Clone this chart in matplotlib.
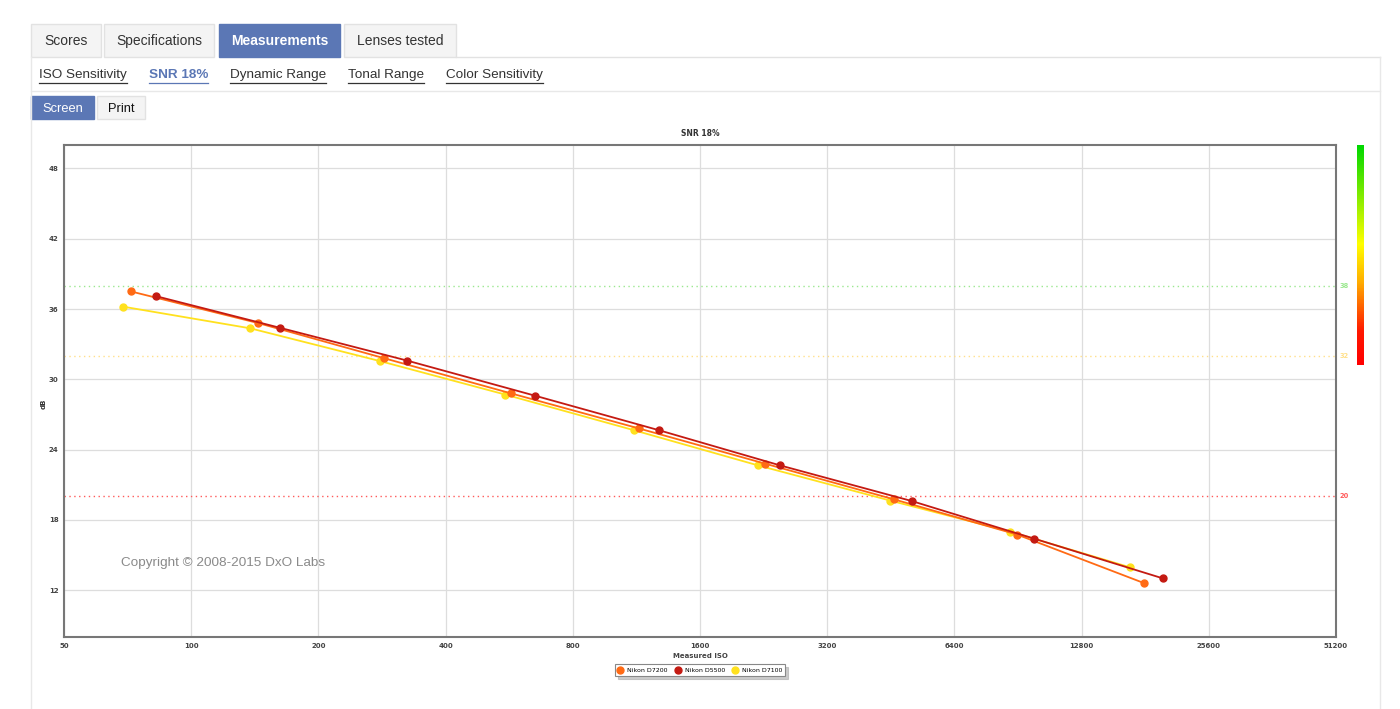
"""
SNR 18% chart (DxO style page) -- three Nikon bodies, SNR vs measured ISO.
"""
import numpy as np
import matplotlib
matplotlib.use("Agg")
import matplotlib.pyplot as plt
from matplotlib.patches import Rectangle
from matplotlib.colors import LinearSegmentedColormap

W, H = 1400, 709

# ---- data ----
iso_d7200 = [72, 144, 286, 571, 1148, 2280, 4605, 9000, 17990]
snr_d7200 = [37.5, 34.8, 31.8, 28.8, 25.8, 22.8, 19.75, 16.75, 12.6]
iso_d5500 = [82.5, 162, 324, 651, 1280, 2475, 5080, 9877, 19950]
snr_d5500 = [37.1, 34.4, 31.6, 28.6, 25.65, 22.65, 19.6, 16.4, 13.0]
iso_d7100 = [69, 138, 280, 553, 1117, 2195, 4507, 8665, 16660]
snr_d7100 = [36.2, 34.35, 31.55, 28.7, 25.65, 22.65, 19.65, 17.0, 13.95]
cameras = ["Nikon D7200", "Nikon D5500", "Nikon D7100"]
colors = ["#ff6a14", "#c41a12", "#ffe11e"]

x_ticks = [50, 100, 200, 400, 800, 1600, 3200, 6400, 12800, 25600, 51200]
y_ticks = [12, 18, 24, 30, 36, 42, 48]
ref_levels = [38, 32, 20]
ref_colors = ["#9be88f", "#ffe08a", "#ff5a5a"]

tabs = ["Scores", "Specifications", "Measurements", "Lenses tested"]
tab_x = [(31, 101), (104, 214), (219, 340), (344, 456)]
links = ["ISO Sensitivity", "SNR 18%", "Dynamic Range", "Tonal Range", "Color Sensitivity"]
link_x = [(39, 127), (149, 208), (230, 326), (348, 424), (446, 543)]

BLUE = "#5b77b5"

fig = plt.figure(figsize=(W / 100, H / 100), dpi=100)
fig.patch.set_facecolor("white")

# page overlay in pixel coordinates
bg = fig.add_axes([0, 0, 1, 1], zorder=0)
bg.set_xlim(0, W); bg.set_ylim(H, 0); bg.axis("off")

for i, (name, (x0, x1)) in enumerate(zip(tabs, tab_x)):
    active = i == 2
    bg.add_patch(Rectangle((x0, 24), x1 - x0, 33, facecolor=BLUE if active else "#f4f4f4",
                           edgecolor=BLUE if active else "#e2e2e2", lw=1))
    bg.text((x0 + x1) / 2, 41, name, ha="center", va="center", fontsize=10,
            family="Liberation Sans", color="white" if active else "#333333",
            fontweight="bold" if active else "normal")
bg.plot([456, 1380], [57, 57], color="#e2e2e2", lw=1)
bg.plot([31, 31], [57, H], color="#e8e8e8", lw=1)
bg.plot([1380, 1380], [57, H], color="#e8e8e8", lw=1)
bg.plot([31, 1380], [91, 91], color="#e8e8e8", lw=1)

for i, (name, (x0, x1)) in enumerate(zip(links, link_x)):
    active = i == 1
    c = BLUE if active else "#333333"
    bg.text(x0, 75, name, ha="left", va="center", fontsize=9.7, family="Liberation Sans",
            color=c, fontweight="bold" if active else "normal")
    bg.plot([x0, x1], [82.5, 82.5], color=c, lw=0.9)

bg.add_patch(Rectangle((31, 96), 63, 23, facecolor=BLUE, edgecolor=BLUE, lw=1))
bg.text(62.5, 108.5, "Screen", ha="center", va="center", fontsize=9.3,
        family="Liberation Sans", color="white")
bg.add_patch(Rectangle((97, 96), 48, 23, facecolor="#f4f4f4", edgecolor="#e2e2e2", lw=1))
bg.text(121, 108.5, "Print", ha="center", va="center", fontsize=9.3,
        family="Liberation Sans", color="#111111")

bg.text(700, 134, "SNR 18%", ha="center", va="center", fontsize=5.5,
        fontweight="bold", color="#333333")
bg.text(44, 404, "dB", ha="center", va="center", fontsize=5, rotation=90,
        fontweight="bold", color="#333333")
bg.text(700, 656, "Measured ISO", ha="center", va="center", fontsize=5,
        fontweight="bold", color="#444444")

# colour scale bar
cmap = LinearSegmentedColormap.from_list(
    "q", [(0, "#00d800"), (0.45, "#ffff00"), (0.62, "#ffb000"), (0.85, "#ff1800"), (1, "#ff0000")])
bg.imshow(np.linspace(0, 1, 200).reshape(-1, 1), cmap=cmap, aspect="auto",
          extent=(1357, 1364, 365, 145), zorder=2)

# ---- chart ----
ax = fig.add_axes([64 / W, (H - 637) / H, 1272 / W, 492 / H], zorder=2)
ax.set_xscale("log", base=2)
ax.set_xlim(50, 51200)
ax.set_ylim(8, 50)
ax.set_xticks(x_ticks)
ax.set_xticklabels([str(t) for t in x_ticks])
ax.set_yticks(y_ticks)
ax.minorticks_off()
ax.tick_params(length=0, labelsize=5, colors="#444444", pad=4)
for lab in ax.get_xticklabels() + ax.get_yticklabels():
    lab.set_fontweight("bold")
ax.grid(True, color="#dddddd", lw=0.9)
ax.set_axisbelow(True)
for s in ax.spines.values():
    s.set_color("#777777"); s.set_linewidth(1.5)

for lvl, c in zip(ref_levels, ref_colors):
    ax.axhline(lvl, color=c, lw=1, ls=(0, (1, 2.5)))
    ax.text(1.003, lvl, str(lvl), transform=ax.get_yaxis_transform(), fontsize=4.8,
            color=c, va="center", ha="left", fontweight="bold")

series = [(iso_d7100, snr_d7100), (iso_d7200, snr_d7200), (iso_d5500, snr_d5500)]
order = [2, 0, 1]
handles = {}
for k, (xs, ys) in zip(order, series):
    h, = ax.plot(xs, ys, color=colors[k], lw=1.3, marker="o", ms=5, label=cameras[k])
    handles[k] = h

ax.text(0.045, 0.15, "Copyright \u00a9 2008-2015 DxO Labs", transform=ax.transAxes,
        fontsize=9.7, family="Liberation Sans", color="#8a8a8a", va="center")

leg = fig.legend([handles[0], handles[1], handles[2]], cameras, loc="center",
                 bbox_to_anchor=(700 / W, 1 - 670 / H), ncol=3, fontsize=4.5,
                 frameon=True, fancybox=False, shadow=dict(color="#aaaaaa", alpha=0.6),
                 handlelength=0.8, columnspacing=1.2, handletextpad=0.7, borderpad=0.5)
leg.get_frame().set_edgecolor("#888888")
leg.get_frame().set_linewidth(0.8)
for h in leg.legend_handles:
    h.set_linestyle("none")

fig.savefig("out.png", dpi=100)
